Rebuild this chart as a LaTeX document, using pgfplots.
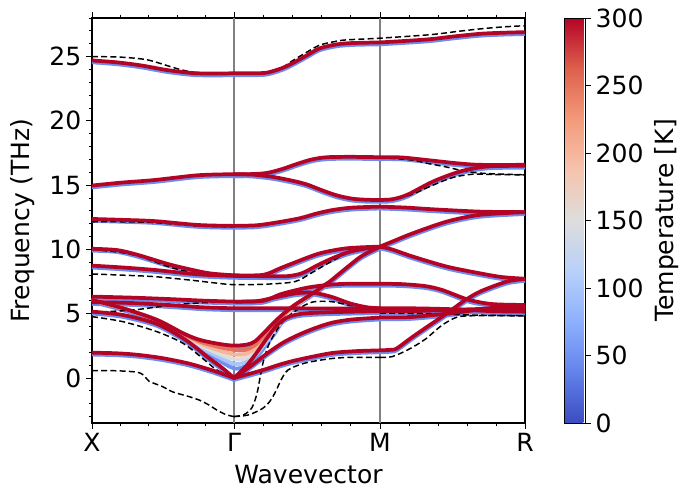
\documentclass[border=0pt]{standalone}
\usepackage{fontspec}
\setmainfont{DejaVu Sans}
\usepackage{pgfplots}
\pgfplotsset{compat=1.18}
\usepackage{pgfplotstable}

\definecolor{hot}{RGB}{180,4,38}
\definecolor{cold}{RGB}{108,140,240}
\definecolor{tA}{RGB}{112,145,241}
\definecolor{tB}{RGB}{170,197,251}
\definecolor{tC}{RGB}{221,221,221}
\definecolor{tD}{RGB}{245,182,156}
\definecolor{tE}{RGB}{229,115,92}
\definecolor{vline}{RGB}{128,128,128}

% ---------- X - Gamma ----------
\pgfplotstableread[row sep=\\]{x y\\0 24.7\\25 24.55\\50 24.3\\75 23.95\\100 23.72\\120 23.68\\142 23.7\\}\xga
\pgfplotstableread[row sep=\\]{x y\\0 14.97\\30 15.2\\63 15.4\\106 15.77\\142 15.85\\}\xgb
\pgfplotstableread[row sep=\\]{x y\\0 12.37\\30 12.3\\63 12.2\\106 11.9\\142 11.83\\}\xgc
\pgfplotstableread[row sep=\\]{x y\\0 10.05\\25 9.95\\46 9.57\\79 8.8\\113 8.2\\130 8.05\\142 7.99\\}\xgd
\pgfplotstableread[row sep=\\]{x y\\0 8.74\\30 8.6\\63 8.4\\100 8.1\\120 8.0\\142 7.94\\}\xge
\pgfplotstableread[row sep=\\]{x y\\0 6.33\\40 6.25\\80 6.13\\110 6.02\\142 5.94\\}\xgf
\pgfplotstableread[row sep=\\]{x y\\0 5.9\\40 5.83\\80 5.66\\110 5.5\\142 5.42\\}\xgg
\pgfplotstableread[row sep=\\]{x y\\0 5.16\\31 4.9\\65 4.2\\91 3.1\\105 2.3\\115 1.66\\130 0.8\\142 0\\}\xgh
\pgfplotstableread[row sep=\\]{x y\\0 1.97\\25 1.92\\46 1.8\\70 1.55\\96 1.14\\120 0.6\\142 0\\}\xgi
% ---------- Gamma - M ----------
\pgfplotstableread[row sep=\\]{x y\\142 23.7\\160 23.7\\175 23.75\\190 24.1\\201 24.5\\215 25.1\\228 25.65\\245 25.95\\260 26.05\\288 26.1\\}\gma
\pgfplotstableread[row sep=\\]{x y\\142 15.85\\160 15.86\\175 15.95\\190 16.25\\205 16.65\\220 17.0\\235 17.17\\260 17.2\\288 17.17\\}\gmb
\pgfplotstableread[row sep=\\]{x y\\142 15.85\\160 15.82\\180 15.65\\200 15.35\\215 15.05\\230 14.6\\245 14.2\\260 13.95\\275 13.86\\288 13.85\\}\gmc
\pgfplotstableread[row sep=\\]{x y\\142 11.83\\165 11.88\\185 12.1\\208 12.43\\225 12.8\\241 13.07\\260 13.25\\288 13.33\\}\gmd
\pgfplotstableread[row sep=\\]{x y\\142 7.99\\171 8.02\\188 8.53\\205 9.05\\228 9.7\\255 10.09\\288 10.22\\}\gme
\pgfplotstableread[row sep=\\]{x y\\142 7.94\\170 7.92\\195 7.92\\210 8.15\\225 8.75\\240 9.3\\255 9.75\\270 10.02\\288 10.2\\}\gmf
\pgfplotstableread[row sep=\\]{x y\\142 5.94\\171 6.0\\188 6.5\\205 6.85\\221 7.1\\248 7.31\\288 7.33\\}\gmg
\pgfplotstableread[row sep=\\]{x y\\142 5.94\\165 5.98\\185 6.3\\205 6.6\\222 6.62\\240 6.3\\258 5.8\\275 5.5\\288 5.42\\}\gmh
\pgfplotstableread[row sep=\\]{x y\\142 5.42\\200 5.42\\250 5.4\\288 5.42\\}\gmi
\pgfplotstableread[row sep=\\]{x y\\142 0\\155 1.0\\165 2.0\\175 3.1\\185 4.1\\195 4.7\\210 5.0\\240 5.12\\288 5.2\\}\gmj
\pgfplotstableread[row sep=\\]{x y\\142 0\\160 1.0\\175 1.9\\190 2.7\\205 3.3\\222 3.85\\240 4.3\\260 4.55\\288 4.7\\}\gmk
\pgfplotstableread[row sep=\\]{x y\\142 0\\171 0.62\\188 1.05\\205 1.4\\238 1.92\\260 2.07\\275 2.12\\288 2.15\\}\gml
% ---------- M - R ----------
\pgfplotstableread[row sep=\\]{x y\\288 26.1\\310 26.2\\338 26.35\\360 26.55\\388 26.77\\410 26.85\\433 26.9\\}\mra
\pgfplotstableread[row sep=\\]{x y\\288 17.17\\310 17.15\\341 16.9\\365 16.7\\388 16.58\\433 16.58\\}\mrb
\pgfplotstableread[row sep=\\]{x y\\288 13.85\\300 13.9\\315 14.24\\341 15.28\\368 16.06\\395 16.45\\433 16.5\\}\mrc
\pgfplotstableread[row sep=\\]{x y\\288 13.33\\315 13.25\\341 13.12\\388 12.94\\433 12.9\\}\mrd
\pgfplotstableread[row sep=\\]{x y\\288 10.22\\300 10.6\\321 11.26\\355 12.17\\388 12.69\\433 12.9\\}\mre
\pgfplotstableread[row sep=\\]{x y\\288 10.22\\300 10.0\\321 9.44\\355 8.66\\388 8.14\\410 7.85\\433 7.72\\}\mrf
\pgfplotstableread[row sep=\\]{x y\\288 7.33\\310 7.3\\333 7.15\\350 6.85\\376 6.1\\400 5.75\\433 5.68\\}\mrg
\pgfplotstableread[row sep=\\]{x y\\288 5.42\\320 5.42\\360 5.35\\400 5.2\\433 5.16\\}\mrh
\pgfplotstableread[row sep=\\]{x y\\288 5.2\\330 5.22\\380 5.35\\433 5.45\\}\mri
\pgfplotstableread[row sep=\\]{x y\\288 4.72\\320 4.75\\360 5.05\\400 5.45\\433 5.68\\}\mrj
\pgfplotstableread[row sep=\\]{x y\\288 2.15\\300 2.2\\305 2.31\\321 3.22\\338 4.13\\355 5.03\\371 5.94\\388 6.72\\415 7.5\\433 7.7\\}\mrk
% ---------- soft mode at several temperatures ----------
\pgfplotstableread[row sep=\\]{x y\\0 6.07\\31 5.42\\65 4.51\\91 3.48\\108 2.96\\128 2.64\\142 2.52\\155 2.6\\163 2.85\\173 3.6\\183 4.4\\193 5.1\\203 5.7\\219 6.5\\236 7.4\\255 8.6\\270 9.5\\288 10.2\\}\sTf
\pgfplotstableread[row sep=\\]{x y\\0 6.07\\31 5.42\\65 4.51\\91 3.46\\108 2.83\\125 2.45\\142 2.18\\153 2.18\\163 2.57\\173 3.37\\183 4.22\\193 5.02\\203 5.67\\219 6.5\\236 7.4\\}\sTe
\pgfplotstableread[row sep=\\]{x y\\0 6.07\\31 5.42\\65 4.51\\91 3.45\\108 2.7\\125 2.2\\142 1.83\\153 1.86\\163 2.29\\173 3.14\\183 4.04\\193 4.94\\203 5.64\\219 6.5\\236 7.4\\}\sTd
\pgfplotstableread[row sep=\\]{x y\\0 6.07\\31 5.42\\65 4.51\\91 3.43\\108 2.56\\125 1.95\\142 1.47\\153 1.54\\163 2.0\\173 2.91\\183 3.86\\193 4.86\\203 5.61\\219 6.5\\236 7.4\\}\sTc
\pgfplotstableread[row sep=\\]{x y\\0 6.07\\31 5.42\\65 4.51\\91 3.42\\108 2.43\\125 1.7\\142 1.11\\153 1.22\\163 1.73\\173 2.68\\183 3.68\\193 4.78\\203 5.58\\219 6.5\\236 7.4\\}\sTb
\pgfplotstableread[row sep=\\]{x y\\0 6.07\\31 5.42\\65 4.51\\91 3.4\\108 2.3\\125 1.45\\142 0.75\\153 0.9\\163 1.45\\173 2.45\\183 3.5\\193 4.7\\203 5.55\\219 6.5\\236 7.4\\}\sTa
% ---------- harmonic (dashed) ----------
\pgfplotstableread[row sep=\\]{x y\\0 25.0\\30 24.95\\55 24.75\\75 24.3\\88 24.0\\105 23.75\\142 23.7\\175 23.75\\190 24.15\\201 24.7\\215 25.35\\228 25.9\\245 26.2\\255 26.3\\288 26.43\\338 26.7\\365 26.95\\388 27.15\\410 27.3\\433 27.4\\}\hda
\pgfplotstableread[row sep=\\]{x y\\288 17.15\\320 16.95\\335 16.7\\355 16.4\\375 16.05\\395 15.9\\433 15.8\\}\hdb
\pgfplotstableread[row sep=\\]{x y\\288 13.8\\315 14.15\\341 15.0\\361 15.6\\381 15.85\\405 15.82\\433 15.8\\}\hdc
\pgfplotstableread[row sep=\\]{x y\\0 12.15\\30 12.15\\63 12.08\\106 11.82\\142 11.75\\}\hdd
\pgfplotstableread[row sep=\\]{x y\\0 8.09\\30 8.0\\63 7.88\\100 7.6\\120 7.42\\142 7.26\\175 7.3\\203 7.5\\219 8.15\\236 8.92\\255 9.7\\270 10.0\\288 10.2\\}\hde
\pgfplotstableread[row sep=\\]{x y\\0 10.0\\30 9.75\\50 9.4\\79 8.6\\113 8.0\\142 7.95\\}\hdf
\pgfplotstableread[row sep=\\]{x y\\0 4.77\\31 4.38\\65 3.6\\91 2.7\\111 1.5\\125 0.62\\142 0\\}\hdg
\pgfplotstableread[row sep=\\]{x y\\142 -3.0\\152 -2.85\\160 -2.3\\165 -1.2\\168 0.0\\172 1.5\\178 2.8\\190 4.3\\205 5.3\\220 5.9\\238 5.95\\255 5.7\\271 5.45\\288 5.34\\}\hdh
\pgfplotstableread[row sep=\\]{x y\\142 -3.0\\156 -2.88\\170 -2.4\\178 -1.8\\184 -1.0\\189 -0.16\\196 0.62\\212 1.14\\236 1.48\\256 1.6\\288 1.61\\}\hdi
\pgfplotstableread[row sep=\\]{x y\\288 1.61\\300 1.66\\316 2.2\\333 3.0\\350 4.1\\366 4.75\\390 4.85\\433 4.84\\}\hdj
\pgfplotstableread[row sep=\\]{x y\\0 0.57\\25 0.56\\45 0.45\\52 0.2\\57 -0.25\\70 -0.65\\81 -1.09\\95 -1.4\\108 -1.74\\118 -2.15\\125 -2.5\\134 -2.85\\142 -3.0\\}\hdk
\pgfplotstableread[row sep=\\]{x y\\0 5.1\\41 5.29\\81 5.68\\110 5.85\\142 5.94\\}\hdl
\pgfplotstableread[row sep=\\]{x y\\288 5.05\\330 5.0\\380 4.9\\433 4.82\\}\hdm

\pgfplotsset{
  /pgf/number format/assume math mode=true,
  hotband/.style={hot, line width=2.8pt, smooth, tension=0.5, line cap=round, line join=round},
  shadow/.style={cold, line width=2.5pt, smooth, tension=0.5, yshift=-1.6pt, line cap=round},
  tband/.style={line width=2.9pt, smooth, tension=0.5, line cap=round},
  harm/.style={black, line width=1.1pt, dash pattern=on 4.5pt off 2.4pt, smooth, tension=0.5},
}
\newcommand{\fs}{\fontsize{18.8}{22}\selectfont}

\begin{document}
\begin{tikzpicture}
\begin{axis}[
  scale only axis, width=324.75pt, height=303.75pt,
  xmin=0, xmax=433, ymin=-3.5, ymax=28,
  xtick={0,142,288,433}, xticklabels={X,Γ,M,R},
  minor xtick={28.4,56.8,85.2,113.6,171.2,200.4,229.6,258.8,317,346,375,404},
  ytick={0,5,10,15,20,25},
  minor ytick={-3,-2,...,28},
  xtick pos=both, ytick pos=left,
  tick align=outside,
  major tick length=4.5pt, minor tick length=2.6pt,
  tick style={black, line width=0.6pt},
  axis line style={line width=0.8pt},
  tick label style={font=\fs},
  xlabel={Wavevector}, ylabel={Frequency (THz)},
  every axis x label/.style={at={(rel axis cs:0.5,-0.1275)}, anchor=center, font=\fs},
  every axis y label/.style={at={(rel axis cs:-0.1594,0.5)}, anchor=center, rotate=90, font=\fs},
  colorbar,
  colormap={cw}{rgb255(0cm)=(59,76,192); rgb255(1cm)=(98,130,234); rgb255(2cm)=(141,176,254); rgb255(3cm)=(184,208,249); rgb255(4cm)=(221,221,221); rgb255(5cm)=(245,196,173); rgb255(6cm)=(244,154,123); rgb255(7cm)=(222,96,77); rgb255(8cm)=(180,4,38)},
  point meta min=0, point meta max=300,
  colorbar style={
    at={(parent axis.north east)}, anchor=north west, xshift=21pt,
    scale only axis, width=15.4pt, height=303.75pt,
    ytick={0,50,...,300}, ytick pos=right, yticklabel pos=right,
    tick align=outside, major tick length=4.5pt,
    tick style={black, line width=0.6pt},
    axis line style={line width=0.6pt},
    tick label style={font=\fs},
    ylabel={Temperature [K]},
    every axis y label/.style={at={(rel axis cs:4.98,0.5)}, anchor=center, rotate=90, font=\fs},
  },
]
\addplot[vline, line width=1.5pt, forget plot] coordinates {(142,-3.5) (142,28)};
\addplot[vline, line width=1.5pt, forget plot] coordinates {(288,-3.5) (288,28)};

% low-temperature shadows
\addplot[shadow] table {\xga};
\addplot[shadow] table {\xgb};
\addplot[shadow] table {\xgc};
\addplot[shadow] table {\xgd};
\addplot[shadow] table {\xge};
\addplot[shadow] table {\xgf};
\addplot[shadow] table {\xgg};
\addplot[shadow] table {\xgh};
\addplot[shadow] table {\xgi};
\addplot[shadow] table {\gma};
\addplot[shadow] table {\gmb};
\addplot[shadow] table {\gmc};
\addplot[shadow] table {\gmd};
\addplot[shadow] table {\gme};
\addplot[shadow] table {\gmf};
\addplot[shadow] table {\gmg};
\addplot[shadow] table {\gmh};
\addplot[shadow] table {\gmi};
\addplot[shadow] table {\gmj};
\addplot[shadow] table {\gmk};
\addplot[shadow] table {\gml};
\addplot[shadow] table {\mra};
\addplot[shadow] table {\mrb};
\addplot[shadow] table {\mrc};
\addplot[shadow] table {\mrd};
\addplot[shadow] table {\mre};
\addplot[shadow] table {\mrf};
\addplot[shadow] table {\mrg};
\addplot[shadow] table {\mrh};
\addplot[shadow] table {\mri};
\addplot[shadow] table {\mrj};
\addplot[shadow] table {\mrk};
\addplot[shadow] table {\sTf};
\addplot[tband, tA] table {\sTa};
\addplot[tband, tB] table {\sTb};
\addplot[tband, tC] table {\sTc};
\addplot[tband, tD] table {\sTd};
\addplot[tband, tE] table {\sTe};

% harmonic
\addplot[harm] table {\hda};
\addplot[harm] table {\hdb};
\addplot[harm] table {\hdc};
\addplot[harm] table {\hdd};
\addplot[harm] table {\hde};
\addplot[harm] table {\hdf};
\addplot[harm] table {\hdg};
\addplot[harm] table {\hdh};
\addplot[harm] table {\hdi};
\addplot[harm] table {\hdj};
\addplot[harm] table {\hdk};
\addplot[harm] table {\hdl};
\addplot[harm] table {\hdm};

% 300 K
\addplot[hotband] table {\xga};
\addplot[hotband] table {\xgb};
\addplot[hotband] table {\xgc};
\addplot[hotband] table {\xgd};
\addplot[hotband] table {\xge};
\addplot[hotband] table {\xgf};
\addplot[hotband] table {\xgg};
\addplot[hotband] table {\xgh};
\addplot[hotband] table {\xgi};
\addplot[hotband] table {\gma};
\addplot[hotband] table {\gmb};
\addplot[hotband] table {\gmc};
\addplot[hotband] table {\gmd};
\addplot[hotband] table {\gme};
\addplot[hotband] table {\gmf};
\addplot[hotband] table {\gmg};
\addplot[hotband] table {\gmh};
\addplot[hotband] table {\gmi};
\addplot[hotband] table {\gmj};
\addplot[hotband] table {\gmk};
\addplot[hotband] table {\gml};
\addplot[hotband] table {\mra};
\addplot[hotband] table {\mrb};
\addplot[hotband] table {\mrc};
\addplot[hotband] table {\mrd};
\addplot[hotband] table {\mre};
\addplot[hotband] table {\mrf};
\addplot[hotband] table {\mrg};
\addplot[hotband] table {\mrh};
\addplot[hotband] table {\mri};
\addplot[hotband] table {\mrj};
\addplot[hotband] table {\mrk};
\addplot[hotband] table {\sTf};

\coordinate (bl) at (rel axis cs:-0.21247,-0.16049);
\coordinate (tr) at (rel axis cs:1.36952,1.04444);
\end{axis}
\pgfresetboundingbox
\path[use as bounding box] (bl) rectangle (tr);
\end{tikzpicture}
\end{document}
